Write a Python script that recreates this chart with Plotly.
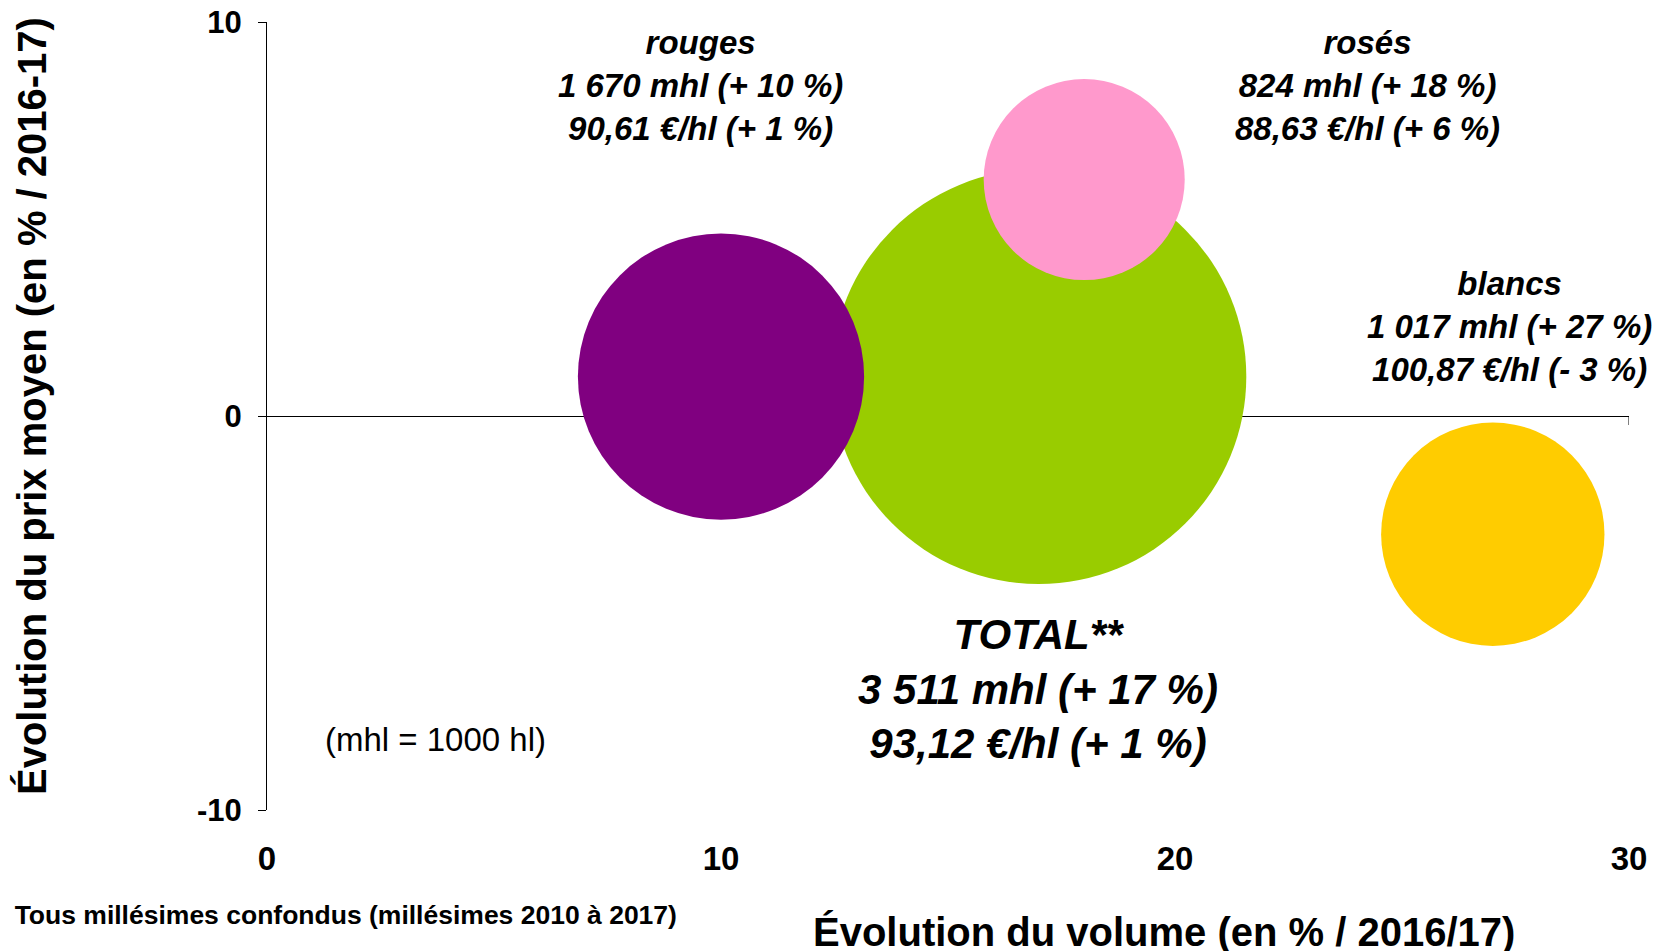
"""Bubble chart: evolution of volume vs average price by wine colour."""
import plotly.graph_objects as go

# Data
categories = ["TOTAL**", "rouges", "rosés", "blancs"]
volume_change = [17, 10, 18, 27]          # % vs 2016/17
price_change = [1, 1, 6, -3]              # % vs 2016-17
volume_mhl = [3511, 1670, 824, 1017]      # bubble size
volume_txt = ["3 511", "1 670", "824", "1 017"]
price_txt = ["93,12", "90,61", "88,63", "100,87"]
price_pct_txt = ["+ 1", "+ 1", "+ 6", "- 3"]
colors = ["#99CC00", "#800080", "#FF99CC", "#FFCC00"]

x_ticks = [0, 10, 20, 30]
y_ticks = [-10, 0, 10]
y_ticktext = ["-10", "0", "10"]

FONT = "Liberation Sans, Arial, sans-serif"

fig = go.Figure()

fig.add_trace(go.Scatter(
    x=volume_change, y=price_change, mode="markers",
    marker=dict(size=volume_mhl, sizemode="area",
                sizeref=2 * max(volume_mhl) / 415 ** 2,
                color=colors, opacity=1, line=dict(width=0)),
    hoverinfo="skip", showlegend=False,
))

# label placement (data coords) and font size per category
label_pos = {"TOTAL**": (16.98, -6.93, 42), "rouges": (9.54, 8.40, 33),
             "rosés": (24.23, 8.40, 33), "blancs": (27.36, 2.28, 33)}

for i, cat in enumerate(categories):
    lx, ly, fs = label_pos[cat]
    sign = "+ " if volume_change[i] >= 0 else "- "
    txt = (f"<b><i>{cat}<br>{volume_txt[i]} mhl ({sign}{abs(volume_change[i])} %)"
           f"<br>{price_txt[i]} €/hl ({price_pct_txt[i]} %)</i></b>")
    fig.add_annotation(x=lx, y=ly, xref="x", yref="y", text=txt, showarrow=False,
                       xanchor="center", yanchor="middle", align="center",
                       font=dict(family=FONT, size=fs, color="black"))

fig.add_annotation(x=1.23, y=-8.22, xref="x", yref="y", text="(mhl = 1000 hl)",
                   showarrow=False, xanchor="left", yanchor="middle",
                   font=dict(family=FONT, size=33, color="black"))

# axis titles and footnote
fig.add_annotation(x=0.6586, y=-0.1548, xref="paper", yref="paper",
                   text="<b>Évolution du volume (en % / 2016/17)</b>", showarrow=False,
                   xanchor="center", yanchor="middle",
                   font=dict(family=FONT, size=40, color="black"))
fig.add_annotation(x=-0.1725, y=0.5127, xref="paper", yref="paper", textangle=-90,
                   text="<b>Évolution du prix moyen (en % / 2016-17)</b>", showarrow=False,
                   xanchor="center", yanchor="middle",
                   font=dict(family=FONT, size=40, color="black"))
fig.add_annotation(x=0.3025, y=-0.1332, xref="paper", yref="paper",
                   text="<b>(**) Tous millésimes confondus (millésimes 2010 à 2017)</b>",
                   showarrow=False, xanchor="right", yanchor="middle",
                   font=dict(family=FONT, size=26.5, color="black"))

# small end tick of the horizontal axis at x=30
fig.add_shape(type="line", xref="x", yref="y", ysizemode="pixel", yanchor=0,
              x0=30, x1=30, y0=0, y1=-9, line=dict(color="black", width=1), layer="below")

fig.update_xaxes(range=[0, 30], tickvals=x_ticks, showgrid=False, zeroline=False,
                 showline=False, ticks="", ticklabelstandoff=26, automargin=False,
                 ticklabeloverflow="allow",
                 tickfont=dict(family=FONT, size=33, color="black", weight="bold"))
fig.update_yaxes(range=[-10, 10], tickvals=y_ticks, ticktext=y_ticktext, showgrid=False,
                 zeroline=True, zerolinecolor="black", zerolinewidth=1,
                 showline=True, linecolor="black", linewidth=1, automargin=False,
                 ticks="outside", ticklen=8, tickcolor="black", ticklabelstandoff=10,
                 ticklabeloverflow="allow",
                 tickfont=dict(family=FONT, size=31, color="black", weight="bold"))

# page body adds an 8px offset, so the figure is sized to fit the window
fig.update_layout(width=1652, height=943, plot_bgcolor="white", paper_bgcolor="white",
                  margin=dict(l=259, r=31, t=14, b=141, autoexpand=False), hovermode=False)

fig.write_html("out.html")
